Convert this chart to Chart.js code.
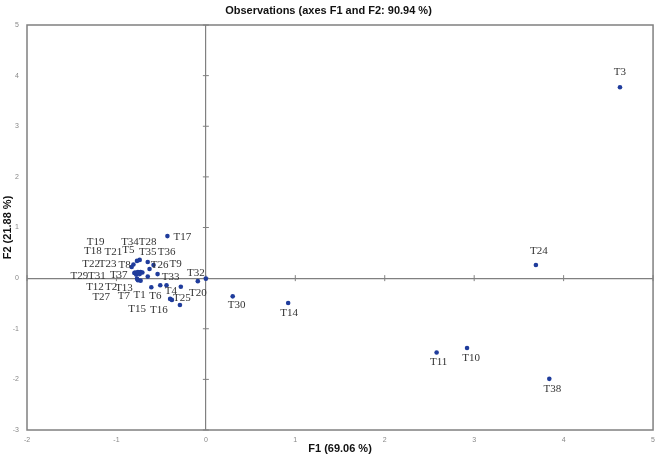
<!DOCTYPE html>
<html><head><meta charset="utf-8">
<script src="https://cdn.jsdelivr.net/npm/chart.js@4.4.1/dist/chart.umd.min.js"></script>
<style>html,body{margin:0;padding:0;background:#fff}</style>
</head><body>
<canvas id="c" width="661" height="460"></canvas>
<script>
// Observations T1..T38
const obsLabels = ['T1','T2','T3','T4','T5','T6','T7','T8','T9','T10',
  'T11','T12','T13','T14','T15','T16','T17','T18','T19','T20',
  'T21','T22','T23','T24','T25','T26','T27','T28','T29','T30',
  'T31','T32','T33','T34','T35','T36','T37','T38'];
const f1 = [-0.73,-0.79,4.63,-0.28,-0.81,-0.61,-0.76,-0.83,-0.54,2.92,
  2.58,-0.77,-0.77,0.92,-0.40,-0.38,-0.43,-0.75,-0.73,0.00,
  -0.71,-0.78,-0.74,3.69,-0.29,-0.585,-0.51,-0.74,-0.80,0.30,
  -0.76,-0.09,-0.44,-0.77,-0.65,-0.63,-0.65,3.84];
const f2 = [-0.05,0.11,3.77,-0.17,0.27,-0.18,-0.04,0.22,0.08,-1.38,
  -1.47,0.10,-0.01,-0.49,-0.41,-0.43,0.83,0.11,0.12,-0.01,
  0.11,0.07,0.08,0.26,-0.53,0.26,-0.14,0.36,0.10,-0.36,
  0.12,-0.06,-0.14,0.34,0.32,0.18,0.03,-1.99];
// label placement relative to each point (pixels)
const labelOffsets = [[-1,14],[-24,15],[0,-15],[-10,4],[-5,-14],[4,9],[-14,16],[-7,-2],[18,-10],[4,10],
  [2,10],[-42,14],[-13,9],[1,10],[-33,10],[-13,10],[15,1],[-46,-21],[-45,-30],[-8,14],
  [-29,-20],[-45,-10],[-32,-10],[3,-14],[2,-7],[6,0],[-59,12],[8,-18],[-55,3],[4,9],
  [-41,4],[-2,-8],[4,-8],[-7,-19],[0,-10],[17,-17],[-29,-1],[3,10]];

const pointColor = '#1f3c9c';
const axisGray = '#808080';
const sans = "'Liberation Sans', Arial, sans-serif";

const labelPlugin = {
  id: 'obsLabels',
  afterDatasetsDraw(chart) {
    const ctx = chart.ctx;
    const meta = chart.getDatasetMeta(0);
    ctx.save();
    ctx.font = "11px 'Liberation Serif', 'Times New Roman', serif";
    ctx.fillStyle = '#333';
    ctx.textAlign = 'center';
    ctx.textBaseline = 'middle';
    meta.data.forEach((pt, i) => {
      const [dx, dy] = labelOffsets[i];
      ctx.fillText(obsLabels[i], pt.x + dx, pt.y + dy);
    });
    ctx.restore();
  }
};
const framePlugin = {
  id: 'frame',
  beforeDatasetsDraw(chart) {
    const {ctx, chartArea: a, scales: {x, y}} = chart;
    ctx.save();
    ctx.strokeStyle = axisGray;
    ctx.lineWidth = 1.5;
    ctx.strokeRect(a.left, a.top, a.right - a.left, a.bottom - a.top);
    const x0 = x.getPixelForValue(0), y0 = y.getPixelForValue(0);
    ctx.lineWidth = 1;
    ctx.beginPath();
    y.ticks.forEach(t => { const py = y.getPixelForValue(t.value); ctx.moveTo(x0 - 3, py); ctx.lineTo(x0 + 3, py); });
    x.ticks.forEach(t => { const px = x.getPixelForValue(t.value); ctx.moveTo(px, y0 - 3); ctx.lineTo(px, y0 + 3); });
    ctx.stroke();
    ctx.restore();
  }
};

const zeroGrid = c => (c.tick && c.tick.value === 0) ? axisGray : 'rgba(0,0,0,0)';

new Chart(document.getElementById('c'), {
  type: 'scatter',
  data: {
    datasets: [{
      data: f1.map((v, i) => ({x: v, y: f2[i]})),
      pointRadius: 2.3,
      pointBackgroundColor: pointColor,
      pointBorderWidth: 0,
      showLine: false
    }]
  },
  options: {
    responsive: false,
    animation: false,
    layout: {padding: {left: 0, right: 4, top: 0, bottom: 0}},
    plugins: {
      legend: {display: false},
      tooltip: {enabled: false},
      title: {
        display: true,
        text: 'Observations (axes F1 and F2: 90.94 %)',
        color: '#111',
        font: {family: sans, size: 11, weight: 'bold'},
        padding: {top: 4, bottom: 7.8}
      }
    },
    scales: {
      x: {
        type: 'linear', min: -2, max: 5,
        ticks: {stepSize: 1, color: '#888', font: {size: 7, family: sans}, padding: 6},
        grid: {drawTicks: false, color: zeroGrid, lineWidth: 1.2},
        border: {display: false},
        title: {display: true, text: 'F1 (69.06 %)', color: '#111',
          font: {family: sans, size: 11, weight: 'bold'}, padding: {top: 0, bottom: 4}},
        afterFit: s => { s.height = 30; }
      },
      y: {
        type: 'linear', min: -3, max: 5,
        ticks: {stepSize: 1, color: '#888', font: {size: 7, family: sans}, padding: 8},
        grid: {drawTicks: false, color: zeroGrid, lineWidth: 1.2},
        border: {display: false},
        title: {display: true, text: 'F2 (21.88 %)', color: '#111',
          font: {family: sans, size: 11, weight: 'bold'}, padding: {top: 1, bottom: 0}},
        afterFit: s => { s.width = 27; }
      }
    }
  },
  plugins: [framePlugin, labelPlugin]
});
</script>
</body></html>
